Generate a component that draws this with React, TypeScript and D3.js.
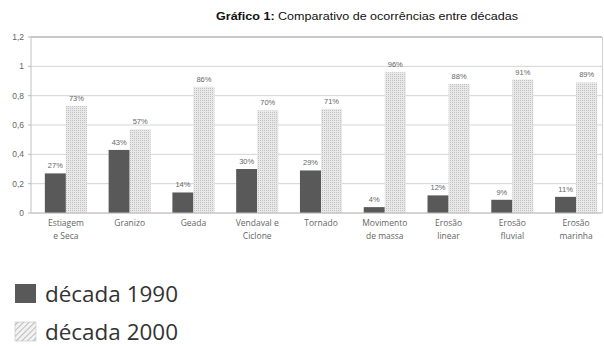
import React from "react";
import * as d3 from "d3";

const categories = [
  ["Estiagem", "e Seca"],
  ["Granizo"],
  ["Geada"],
  ["Vendaval e", "Ciclone"],
  ["Tornado"],
  ["Movimento", "de massa"],
  ["Erosão", "linear"],
  ["Erosão", "fluvial"],
  ["Erosão", "marinha"],
];
const decada1990 = [0.27, 0.43, 0.14, 0.3, 0.29, 0.04, 0.12, 0.09, 0.11];
const decada2000 = [0.73, 0.57, 0.86, 0.7, 0.71, 0.96, 0.88, 0.91, 0.89];
const yTicks = [0, 0.2, 0.4, 0.6, 0.8, 1, 1.2];
const yTickLabels = ["0", "0,2", "0,4", "0,6", "0,8", "1", "1,2"];
const seriesNames = ["década 1990", "década 2000"];

export default function App() {
  const W = 604, H = 347;
  const x = d3.scaleBand<number>().domain(d3.range(categories.length)).range([34, 608]).paddingInner(0.34).paddingOuter(0.17);
  const y = d3.scaleLinear().domain([0, 1.2]).range([213, 37]);
  const bw = x.bandwidth() / 2;
  const pct = (v: number) => `${Math.round(v * 100)}%`;
  const gray = "#666";
  return (
    <svg width={W} height={H} style={{ position: "absolute", left: 0, top: 0, background: "#fff" }}>
      <defs>
        <pattern id="dots" width="2" height="2" patternUnits="userSpaceOnUse">
          <rect width="2" height="2" fill="#e8e8e8" />
          <rect width="1" height="1" fill="#c2c2c2" />
        </pattern>
        <pattern id="hatch" width="4" height="4" patternUnits="userSpaceOnUse" patternTransform="rotate(45)">
          <rect width="4" height="4" fill="#f2f2f2" />
          <line x1="0" y1="0" x2="0" y2="4" stroke="#9a9a9a" strokeWidth="1.2" />
        </pattern>
      </defs>
      <text x={216} y={20} fontFamily="Liberation Sans, Arial, sans-serif" fontSize={10} fill="#111" textLength={302} lengthAdjust="spacingAndGlyphs">
        <tspan fontWeight="bold">Gráfico 1:</tspan> Comparativo de ocorrências entre décadas
      </text>
      {yTicks.map((t, i) => (
        <g key={i}>
          <line x1={31} x2={602} y1={y(t)} y2={y(t)} stroke={t === 1.2 ? "#c8c8c8" : "#d4d4d4"} strokeWidth={t === 1.2 ? 2 : 1} />
          <line x1={28} x2={31} y1={y(t)} y2={y(t)} stroke="#bbb" />
          <text x={24} y={y(t) + 3} textAnchor="end" fontFamily="Liberation Sans, Arial, sans-serif" fontSize={8.5} fill={gray}>
            {yTickLabels[i]}
          </text>
        </g>
      ))}
      <line x1={31} x2={31} y1={37} y2={213} stroke="#c0c0c0" />
      <line x1={602.5} x2={602.5} y1={37} y2={213} stroke="#d0d0d0" />
      {categories.map((c, i) => {
        const x0 = x(i)!;
        return (
          <g key={i}>
            <rect x={x0} y={y(decada1990[i])} width={bw} height={y(0) - y(decada1990[i])} fill="#595959" />
            <rect x={x0 + bw} y={y(decada2000[i])} width={bw} height={y(0) - y(decada2000[i])} fill="url(#dots)" />
            <text x={x0 + bw / 2} y={y(decada1990[i]) - 5} textAnchor="middle" fontFamily="Liberation Sans, Arial, sans-serif" fontSize={7.5} fill={gray}>
              {pct(decada1990[i])}
            </text>
            <text x={x0 + bw * 1.5} y={y(decada2000[i]) - 5} textAnchor="middle" fontFamily="Liberation Sans, Arial, sans-serif" fontSize={7.5} fill={gray}>
              {pct(decada2000[i])}
            </text>
            {c.map((line, j) => (
              <text key={j} x={x0 + bw} y={226 + j * 13} textAnchor="middle" fontFamily="Open Sans, sans-serif" fontSize={8.5} fill={gray}>
                {line}
              </text>
            ))}
          </g>
        );
      })}
      <line x1={31} x2={602} y1={213} y2={213} stroke="#c0c0c0" />
      <rect x={15} y={284} width={21} height={19} fill="#595959" />
      <text x={45} y={302} fontFamily="Open Sans, sans-serif" fontSize={21} fill="#333" textLength={133} lengthAdjust="spacingAndGlyphs">{seriesNames[0]}</text>
      <rect x={15} y={322} width={21} height={19} fill="url(#hatch)" stroke="#bbb" strokeWidth={0.5} />
      <text x={45} y={340} fontFamily="Open Sans, sans-serif" fontSize={21} fill="#333" textLength={133} lengthAdjust="spacingAndGlyphs">{seriesNames[1]}</text>
    </svg>
  );
}
